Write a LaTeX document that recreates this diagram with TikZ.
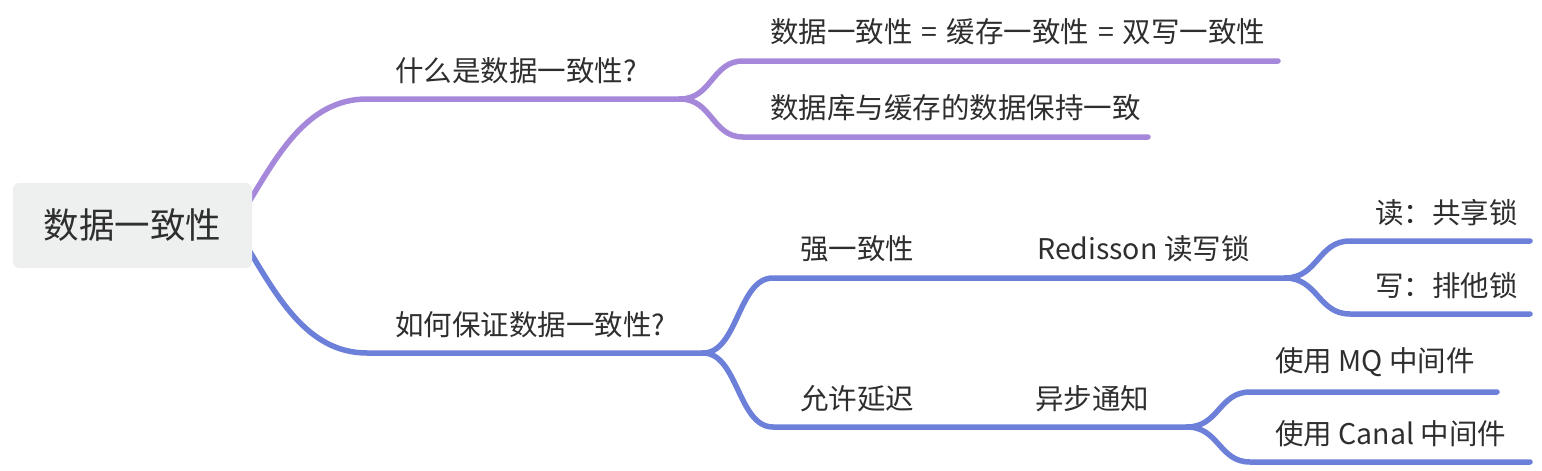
\documentclass[tikz,border=0pt]{standalone}
\usepackage{fontspec}
\setmainfont{Noto Sans CJK SC}
\definecolor{purp}{HTML}{A688DB}
\definecolor{blu}{HTML}{6C80DA}
\definecolor{rootfill}{HTML}{EEF0F0}
\definecolor{txt}{HTML}{2E2E2E}
\tikzset{
  lbl/.style={anchor=west,inner sep=0pt,text=txt,font=\fontsize{28.5}{30}\selectfont},
  rootbox/.style={fill=rootfill,rounded corners=6pt,minimum width=239pt,minimum height=85pt,inner sep=0pt,text=txt,font=\fontsize{35.5}{38}\selectfont},
  br/.style={line width=5.5pt,line cap=round},
}
\begin{document}
\begin{tikzpicture}[x=1pt,y=-1pt]
\useasboundingbox (0,0) rectangle (1542,471);
% coordinates
\coordinate (ru) at (244,210);
\coordinate (rd) at (244,242);
\coordinate (a0) at (367,99);  \coordinate (a1) at (680,99);
\coordinate (a1u) at (743,61); \coordinate (a1ue) at (1278,61);
\coordinate (a1d) at (743,137); \coordinate (a1de) at (1148,137);
\coordinate (b0) at (367,353); \coordinate (b1) at (703,353);
\coordinate (bu) at (773,278); \coordinate (bum) at (1010,278); \coordinate (bue) at (1285,278);
\coordinate (buu) at (1350,241); \coordinate (buue) at (1530,241);
\coordinate (bud) at (1350,314); \coordinate (bude) at (1530,314);
\coordinate (bd) at (773,427); \coordinate (bdm) at (1010,427); \coordinate (bde) at (1187,427);
\coordinate (bdu) at (1250,392); \coordinate (bdue) at (1497,392);
\coordinate (bdd) at (1250,462); \coordinate (bdde) at (1530,462);
% purple branch
\draw[br,purp] (ru) .. controls (275,160) and (305,99) .. (a0) -- (a1);
\draw[br,purp] (a1) .. controls (712,99) and (712,61) .. (a1u) -- (a1ue);
\draw[br,purp] (a1) .. controls (712,99) and (712,137) .. (a1d) -- (a1de);
% blue branch
\draw[br,blu] (rd) .. controls (275,292) and (305,353) .. (b0) -- (b1);
\draw[br,blu] (b1) .. controls (738,353) and (738,278) .. (bu) -- (bum) -- (bue);
\draw[br,blu] (bue) .. controls (1318,278) and (1318,241) .. (buu) -- (buue);
\draw[br,blu] (bue) .. controls (1318,278) and (1318,314) .. (bud) -- (bude);
\draw[br,blu] (b1) .. controls (738,353) and (738,427) .. (bd) -- (bdm) -- (bde);
\draw[br,blu] (bde) .. controls (1219,427) and (1219,392) .. (bdu) -- (bdue);
\draw[br,blu] (bde) .. controls (1219,427) and (1219,462) .. (bdd) -- (bdde);
% root
\node[rootbox] (root) at (132.5,225.5) {数据一致性};
% labels
\node[lbl] (q1) at (395,71) {什么是数据一致性?};
\node[lbl] (q1a) at (770,32) {数据一致性\hspace{9pt}=\hspace{9pt}缓存一致性\hspace{9pt}=\hspace{9pt}双写一致性};
\node[lbl] (q1b) at (770,108) {数据库与缓存的数据保持一致};
\node[lbl] (q2) at (395,325) {如何保证数据一致性?};
\node[lbl] (s1) at (800,249) {强一致性};
\node[lbl] (s1a) at (1037,249) {Redisson 读写锁};
\node[lbl] (s1a1) at (1375,213) {读：共享锁};
\node[lbl] (s1a2) at (1375,286) {写：排他锁};
\node[lbl] (s2) at (800,399) {允许延迟};
\node[lbl] (s2a) at (1035,399) {异步通知};
\node[lbl] (s2a1) at (1275,362) {使用 MQ 中间件};
\node[lbl] (s2a2) at (1275,434) {使用 Canal 中间件};
\end{tikzpicture}
\end{document}
